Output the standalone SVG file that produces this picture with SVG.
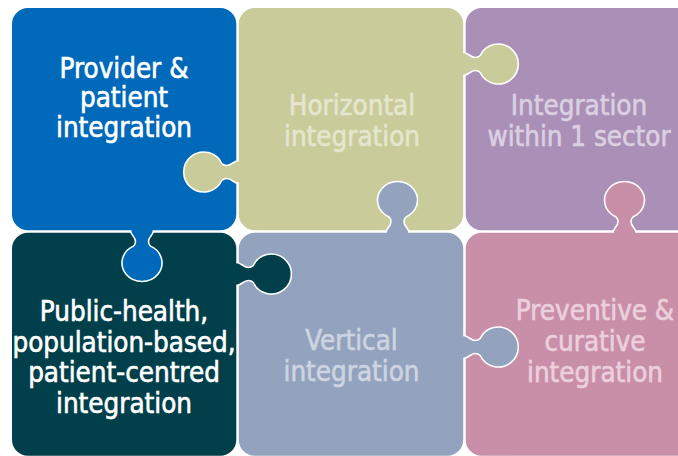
<svg xmlns="http://www.w3.org/2000/svg" xmlns:xlink="http://www.w3.org/1999/xlink" width="678" height="456" viewBox="0 0 678 456">
<style>
text{font-family:"DejaVu Sans Condensed","DejaVu Sans",sans-serif;font-size:27.5px;text-anchor:middle;stroke-width:0.6px;paint-order:stroke}
.ko{fill:none;stroke:#ffffff;stroke-width:1.6}
.blue{fill:#0069B9}.olive{fill:#C9CC9A}.purple{fill:#AA8FB6}.teal{fill:#01404B}.slate{fill:#93A3BD}.pink{fill:#C98FA8}
</style>
<defs>
<path id="kf" d="M -3,-11.5 L 0,-11.5 C 5,-11.5 7,-6.5 12,-6.5 C 14.5,-6.5 16,-7.5 17,-8.5 A 20 20 0 1 1 17,8.5 C 16,7.5 14.5,6.5 12,6.5 C 7,6.5 5,11.5 0,11.5 L -3,11.5 Z"/>
<path id="ks" d="M 0,-11.5 C 5,-11.5 7,-6.5 12,-6.5 C 14.5,-6.5 16,-7.5 17,-8.5 A 20 20 0 1 1 17,8.5 C 16,7.5 14.5,6.5 12,6.5 C 7,6.5 5,11.5 0,11.5"/>
</defs>
<rect width="678" height="456" fill="#ffffff"/>

<g id="node-provider-patient">
<rect class="blue" x="12" y="8" width="224.3" height="222.3" rx="16"/>
<text fill="#ffffff" stroke="#ffffff"><tspan x="124" y="77.5">Provider &amp;</tspan><tspan x="124" y="107">patient</tspan><tspan x="124" y="137">integration</tspan></text>
</g>

<g id="node-horizontal">
<rect class="olive" x="238.8" y="8" width="224.4" height="222.3" rx="16"/>
<text fill="#E4E6CE" stroke="#E4E6CE"><tspan x="352" y="115">Horizontal</tspan><tspan x="352" y="145.5">integration</tspan></text>
</g>

<g id="node-within-sector">
<rect class="purple" x="465.7" y="8" width="230" height="222.3" rx="16"/>
<text fill="#DCCFE3" stroke="#DCCFE3"><tspan x="579" y="115">Integration</tspan><tspan x="579" y="145.5">within 1 sector</tspan></text>
</g>

<g id="node-public-health">
<rect class="teal" x="12" y="232.8" width="224.3" height="223" rx="16"/>
<text fill="#ffffff" stroke="#ffffff"><tspan x="124" y="321">Public-health,</tspan><tspan x="124" y="351.5">population-based,</tspan><tspan x="124" y="382">patient-centred</tspan><tspan x="124" y="412.5">integration</tspan></text>
</g>

<g id="node-vertical">
<rect class="slate" x="238.8" y="232.8" width="224.4" height="223" rx="16"/>
<text fill="#CDD4E2" stroke="#CDD4E2"><tspan x="351.5" y="349.5">Vertical</tspan><tspan x="351.5" y="380.5">integration</tspan></text>
</g>

<g id="node-preventive-curative">
<rect class="pink" x="465.7" y="232.8" width="230" height="223" rx="16"/>
<text fill="#EBD0DC" stroke="#EBD0DC"><tspan x="595" y="319.5">Preventive &amp;</tspan><tspan x="595" y="351">curative</tspan><tspan x="595" y="382">integration</tspan></text>
</g>

<g id="tabs">
<g id="tab-horizontal-left" transform="translate(238.8,172) rotate(180)"><use xlink:href="#kf" class="olive"/><use xlink:href="#ks" class="ko"/></g>
<g id="tab-horizontal-right" transform="translate(463.2,64)"><use xlink:href="#kf" class="olive"/><use xlink:href="#ks" class="ko"/></g>
<g id="tab-provider-down" transform="translate(142,230.3) rotate(90) scale(0.93,1)"><use xlink:href="#kf" class="blue"/><use xlink:href="#ks" class="ko"/></g>
<g id="tab-public-health-right" transform="translate(236.3,274)"><use xlink:href="#kf" class="teal"/><use xlink:href="#ks" class="ko"/></g>
<g id="tab-vertical-up" transform="translate(397.5,232.8) rotate(-90) scale(0.93,1)"><use xlink:href="#kf" class="slate"/><use xlink:href="#ks" class="ko"/></g>
<g id="tab-vertical-right" transform="translate(463.2,347)"><use xlink:href="#kf" class="slate"/><use xlink:href="#ks" class="ko"/></g>
<g id="tab-preventive-up" transform="translate(624.5,232.8) rotate(-90) scale(0.93,1)"><use xlink:href="#kf" class="pink"/><use xlink:href="#ks" class="ko"/></g>
</g>
</svg>
